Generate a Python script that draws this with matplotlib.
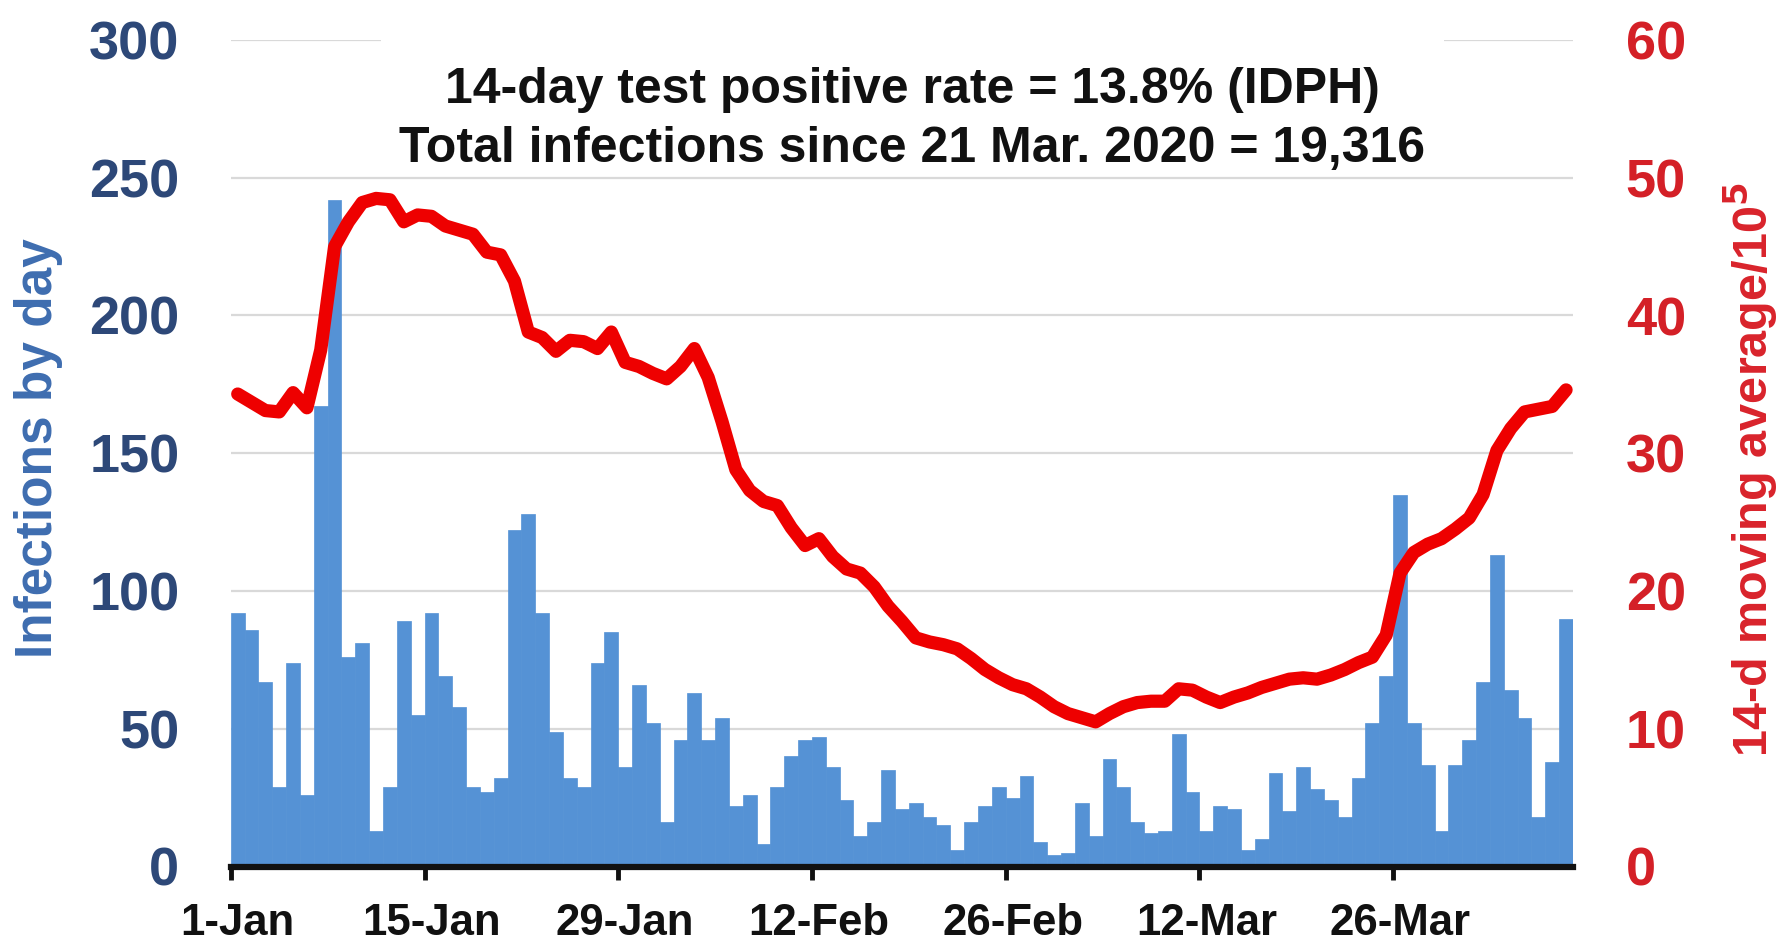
import matplotlib
matplotlib.use("Agg")
import matplotlib.pyplot as plt
from matplotlib.patches import Rectangle
import numpy as np

plt.rcParams['font.family'] = ['Liberation Sans', 'DejaVu Sans']

# ---- data ----
daily_cases = [92, 86, 67, 29, 74, 26, 167, 242, 76, 81, 13, 29, 89, 55, 92, 69, 58, 29, 27, 32,
               122, 128, 92, 49, 32, 29, 74, 85, 36, 66, 52, 16, 46, 63, 46, 54, 22, 26, 8, 29,
               40, 46, 47, 36, 24, 11, 16, 35, 21, 23, 18, 15, 6, 16, 22, 29, 25, 33, 9, 4,
               5, 23, 11, 39, 29, 16, 12, 13, 48, 27, 13, 22, 21, 6, 10, 34, 20, 36, 28, 24,
               18, 32, 52, 69, 135, 52, 37, 13, 37, 46, 67, 113, 64, 54, 18, 38, 90]
moving_avg = [34.3, 33.7, 33.1, 33.0, 34.4, 33.3, 37.5, 45.0, 46.8, 48.2, 48.5, 48.4, 46.8, 47.3,
              47.2, 46.5, 46.2, 45.9, 44.6, 44.4, 42.5, 38.8, 38.4, 37.4, 38.2, 38.1, 37.6, 38.8,
              36.6, 36.3, 35.8, 35.4, 36.3, 37.6, 35.5, 32.3, 28.8, 27.3, 26.5, 26.2, 24.6, 23.3,
              23.8, 22.5, 21.6, 21.3, 20.3, 18.9, 17.8, 16.6, 16.3, 16.1, 15.8, 15.1, 14.3, 13.7,
              13.2, 12.9, 12.3, 11.6, 11.1, 10.8, 10.5, 11.1, 11.6, 11.9, 12.0, 12.0, 12.9, 12.8,
              12.3, 11.9, 12.3, 12.6, 13.0, 13.3, 13.6, 13.7, 13.6, 13.9, 14.3, 14.8, 15.2, 16.8,
              21.3, 22.8, 23.4, 23.8, 24.5, 25.3, 27.0, 30.2, 31.8, 33.0, 33.2, 33.4, 34.6]
tick_days = [0, 14, 28, 42, 56, 70, 84]
tick_labels = ["1-Jan", "15-Jan", "29-Jan", "12-Feb", "26-Feb", "12-Mar", "26-Mar"]
left_ticks = [0, 50, 100, 150, 200, 250, 300]
right_ticks = [0, 10, 20, 30, 40, 50, 60]
note_line1 = "14-day test positive rate = 13.8% (IDPH)"
note_line2 = "Total infections since 21 Mar. 2020 = 19,316"

# ---- figure ----
W, H = 1783, 942
fig = plt.figure(figsize=(W / 100, H / 100), dpi=100)
ax_left, ax_right_px, ax_top, ax_bot = 230.8, 1573.0, 40.0, 866.5
ax = fig.add_axes([ax_left / W, 1 - ax_bot / H, (ax_right_px - ax_left) / W, (ax_bot - ax_top) / H])

n = len(daily_cases)
x = np.arange(n) + 0.5
ax.bar(x, daily_cases, width=1.0, color="#5592D5", edgecolor="#5592D5", linewidth=0.5, zorder=2)
ax.set_xlim(0, n)
ax.set_ylim(0, 300)
ax.set_yticks(left_ticks)
ax.grid(axis="y", color="#D9D9D9", linewidth=1.6, zorder=0)
ax.set_axisbelow(True)

for s in ("left", "right", "top"):
    ax.spines[s].set_visible(False)
ax.spines["bottom"].set_color("#111111")
ax.spines["bottom"].set_linewidth(4.5)
ax.spines["bottom"].set_zorder(5)

ax.set_xticks(tick_days, minor=True)
ax.set_xticks([d + 0.5 for d in tick_days])
ax.set_xticklabels(tick_labels)
ax.tick_params(axis="x", which="minor", length=9, width=3.5, color="#111111", direction="out")
ax.tick_params(axis="x", which="major", length=0, pad=26, labelsize=31.5, labelcolor="#111111")
for t in ax.get_xticklabels():
    t.set_fontweight("bold")
ax.tick_params(axis="y", length=0, pad=37, labelsize=39, labelcolor="#2D4878")
for t in ax.get_yticklabels():
    t.set_fontweight("bold")

ax2 = ax.twinx()
ax2.plot(x, moving_avg, color="#EE0000", linewidth=9.5, solid_joinstyle="round",
         solid_capstyle="round", zorder=4)
ax2.set_ylim(0, 60)
ax2.set_yticks(right_ticks)
for s in ("left", "right", "top", "bottom"):
    ax2.spines[s].set_visible(False)
ax2.tick_params(axis="y", length=0, pad=38, labelsize=39, labelcolor="#D42027")
for t in ax2.get_yticklabels():
    t.set_fontweight("bold")

fig.text(39 / W, 1 - 448 / H, "Infections by day", rotation=90, ha="center", va="center",
         fontsize=37, fontweight="bold", color="#3E6DB0")
fig.text(1751 / W, 1 - 469 / H, "14-d moving average/10$^\\mathbf{5}$", rotation=90,
         ha="center", va="center", fontsize=35, fontweight="bold", color="#D9232B")

# white box hiding the top gridline behind the note
fig.patches.append(Rectangle((381 / W, 1 - 56 / H), (1444 - 381) / W, 30 / H,
                             transform=fig.transFigure, facecolor="white", edgecolor="none", zorder=1))
fig.text(912 / W, 1 - 103 / H, note_line1, ha="center", va="baseline", fontsize=36,
         fontweight="bold", color="#111111", zorder=10)
fig.text(912 / W, 1 - 162 / H, note_line2, ha="center", va="baseline", fontsize=36,
         fontweight="bold", color="#111111", zorder=10)

fig.savefig("out.png", dpi=100)
